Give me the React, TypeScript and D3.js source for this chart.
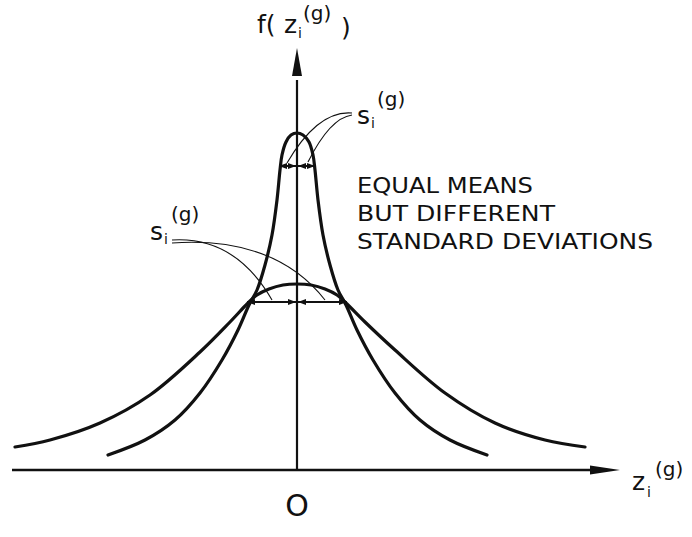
import React from "react";
import * as d3 from "d3";

// Two bell curves with a common mean and different spreads.
// Values are heights above the horizontal axis, x measured from the common mean.
const narrowCurve: [number, number][] = [
  [-1.89, 0.15], [-1.52, 0.3], [-1.22, 0.5], [-0.97, 0.77], [-0.75, 1.1],
  [-0.59, 1.4], [-0.48, 1.65], [-0.4, 1.8], [-0.32, 2.05], [-0.25, 2.35],
  [-0.2, 2.7], [-0.17, 3.0], [-0.15, 3.15], [-0.11, 3.28], [-0.06, 3.35],
  [0, 3.37], [0.06, 3.35], [0.12, 3.28], [0.16, 3.15], [0.18, 3.0],
  [0.21, 2.7], [0.26, 2.35], [0.33, 2.05], [0.41, 1.8], [0.49, 1.65],
  [0.6, 1.4], [0.76, 1.1], [0.98, 0.77], [1.23, 0.5], [1.53, 0.3], [1.9, 0.15],
];

const wideCurve: [number, number][] = [
  [-2.82, 0.23], [-2.47, 0.3], [-1.97, 0.47], [-1.47, 0.75], [-0.97, 1.18],
  [-0.67, 1.48], [-0.49, 1.67], [-0.4, 1.75], [-0.28, 1.81], [-0.14, 1.85],
  [0, 1.86], [0.14, 1.85], [0.28, 1.81], [0.4, 1.75], [0.49, 1.67],
  [0.68, 1.48], [0.98, 1.2], [1.48, 0.77], [1.98, 0.47], [2.48, 0.3], [2.88, 0.23],
];

// Standard-deviation markers: height of the marker line and the half width s.
const sigmaMarks = [
  { name: "narrow", y: 3.04, s: 0.18 },
  { name: "wide", y: 1.68, s: 0.5 },
];

// Leader lines from the s labels to the two halves of each marker:
// start, control point, end (data units).
const leaderLines: [number, number][][] = [
  [[0.55, 3.57], [0.21, 3.6], [-0.1, 3.07]],
  [[0.55, 3.55], [0.33, 3.52], [0.11, 3.08]],
  [[-1.25, 2.3], [-0.62, 2.34], [-0.25, 1.7]],
  [[-1.25, 2.27], [-0.22, 2.34], [0.28, 1.7]],
];

const noteLines = ["EQUAL MEANS", "BUT DIFFERENT", "STANDARD DEVIATIONS"];
const noteWidths = [176, 198, 296];

const W = 692;
const H = 537;

const x = d3.scaleLinear().domain([-2.85, 3.23]).range([12, 620]);
const y = d3.scaleLinear().domain([0, 4.2]).range([470, 50]);

const ink = "#111";
const font = "'DejaVu Sans', 'Liberation Sans', sans-serif";

function arrowHead(tipX: number, tipY: number, dir: "left" | "right" | "up", len: number, half: number) {
  let pts: [number, number][];
  if (dir === "up") pts = [[tipX, tipY], [tipX - half, tipY + len], [tipX + half, tipY + len]];
  else if (dir === "right") pts = [[tipX, tipY], [tipX - len, tipY - half], [tipX - len, tipY + half]];
  else pts = [[tipX, tipY], [tipX + len, tipY - half], [tipX + len, tipY + half]];
  return pts.map((p) => p.join(",")).join(" ");
}

export default function App() {
  const line = d3
    .line<[number, number]>()
    .x((d) => x(d[0]))
    .y((d) => y(d[1]))
    .curve(d3.curveCatmullRom.alpha(0.5));

  const x0 = x(0);
  const yAxis = y(0);

  return (
    <svg
      width={W}
      height={H}
      viewBox={`0 0 ${W} ${H}`}
      style={{ position: "absolute", left: 0, top: 0, background: "#fff" }}
    >
      <rect width={W} height={H} fill="#fff" />

      {/* axes */}
      <line x1={x(-2.85)} y1={yAxis} x2={x(2.95)} y2={yAxis} stroke={ink} strokeWidth={2.4} />
      <polygon points={arrowHead(x(3.23), yAxis, "right", 30, 4.5)} fill={ink} />
      <line x1={x0} y1={yAxis} x2={x0} y2={y(3.9)} stroke={ink} strokeWidth={2.2} />
      <polygon points={arrowHead(x0, y(4.22), "up", 28, 5)} fill={ink} />

      {/* curves */}
      <path d={line(wideCurve) ?? ""} fill="none" stroke={ink} strokeWidth={3.2} strokeLinecap="round" />
      <path d={line(narrowCurve) ?? ""} fill="none" stroke={ink} strokeWidth={3.2} strokeLinecap="round" />

      {/* standard deviation markers, one double arrow per half */}
      {sigmaMarks.map((m) => {
        const yy = y(m.y);
        const l = x(-m.s);
        const r = x(m.s);
        const head = 8;
        const hw = 3;
        return (
          <g key={m.name}>
            <line x1={l} y1={yy} x2={r} y2={yy} stroke={ink} strokeWidth={2} />
            <polygon points={arrowHead(l, yy, "left", head, hw)} fill={ink} />
            <polygon points={arrowHead(x0 - 1, yy, "right", head, hw)} fill={ink} />
            <polygon points={arrowHead(x0 + 1, yy, "left", head, hw)} fill={ink} />
            <polygon points={arrowHead(r, yy, "right", head, hw)} fill={ink} />
          </g>
        );
      })}

      {/* leader lines */}
      {leaderLines.map((p, i) => (
        <path
          key={i}
          d={`M${x(p[0][0])},${y(p[0][1])} Q${x(p[1][0])},${y(p[1][1])} ${x(p[2][0])},${y(p[2][1])}`}
          fill="none"
          stroke={ink}
          strokeWidth={1.1}
        />
      ))}

      {/* s labels */}
      <text x={357} y={124} fontFamily={font} fill={ink} fontSize={25}>
        s
      </text>
      <text x={371} y={128} fontFamily={font} fill={ink} fontSize={14}>
        i
      </text>
      <text x={377} y={106} fontFamily={font} fill={ink} fontSize={20}>
        (g)
      </text>

      <text x={150} y={240} fontFamily={font} fill={ink} fontSize={25}>
        s
      </text>
      <text x={164} y={244} fontFamily={font} fill={ink} fontSize={14}>
        i
      </text>
      <text x={171} y={221} fontFamily={font} fill={ink} fontSize={20}>
        (g)
      </text>

      {/* vertical axis title f(z_i^(g)) */}
      <text x={257} y={33} fontFamily={font} fill={ink} fontSize={25}>
        f(
      </text>
      <text x={284} y={33} fontFamily={font} fill={ink} fontSize={25}>
        z
      </text>
      <text x={298} y={38} fontFamily={font} fill={ink} fontSize={14}>
        i
      </text>
      <text x={303} y={20} fontFamily={font} fill={ink} fontSize={20}>
        (g)
      </text>
      <text x={341} y={36} fontFamily={font} fill={ink} fontSize={25}>
        )
      </text>

      {/* horizontal axis title z_i^(g) */}
      <text x={632} y={490} fontFamily={font} fill={ink} fontSize={25}>
        z
      </text>
      <text x={647} y={497} fontFamily={font} fill={ink} fontSize={14}>
        i
      </text>
      <text x={655} y={476} fontFamily={font} fill={ink} fontSize={20}>
        (g)
      </text>

      {/* origin */}
      <text x={x0} y={516} textAnchor="middle" fontFamily={font} fill={ink} fontSize={30}>
        O
      </text>

      {/* note */}
      {noteLines.map((t, i) => (
        <text
          key={t}
          x={357}
          y={193 + i * 28}
          fontFamily={font}
          fill={ink}
          fontSize={20.5}
          textLength={noteWidths[i]}
          lengthAdjust="spacingAndGlyphs"
        >
          {t}
        </text>
      ))}
    </svg>
  );
}
